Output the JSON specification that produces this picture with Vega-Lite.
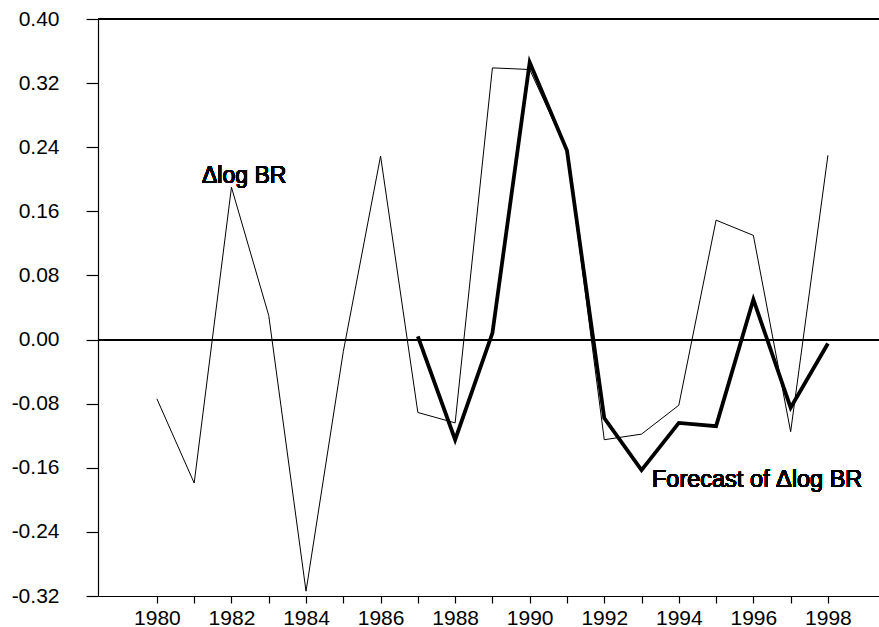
{
  "$schema": "https://vega.github.io/schema/vega-lite/v6.json",
  "width": 781,
  "height": 577,
  "autosize": "none",
  "padding": {"left": 98, "top": 19, "right": 0, "bottom": 31},
  "background": "white",
  "config": {
    "view": {"stroke": null},
    "font": "Liberation Sans",
    "axis": {
      "grid": false,
      "domainColor": "black",
      "tickColor": "black",
      "labelColor": "black",
      "labelFont": "Liberation Sans",
      "labelFontSize": 21,
      "labelFontWeight": "normal",
      "domainWidth": 1.2,
      "tickWidth": 1.2,
      "title": null
    }
  },
  "data": {
    "values": [
      {"year": 1980, "series": "BR", "value": -0.074},
      {"year": 1981, "series": "BR", "value": -0.179},
      {"year": 1982, "series": "BR", "value": 0.190},
      {"year": 1983, "series": "BR", "value": 0.030},
      {"year": 1984, "series": "BR", "value": -0.314},
      {"year": 1985, "series": "BR", "value": -0.015},
      {"year": 1986, "series": "BR", "value": 0.229},
      {"year": 1987, "series": "BR", "value": -0.091},
      {"year": 1988, "series": "BR", "value": -0.104},
      {"year": 1989, "series": "BR", "value": 0.339},
      {"year": 1990, "series": "BR", "value": 0.337},
      {"year": 1991, "series": "BR", "value": 0.236},
      {"year": 1992, "series": "BR", "value": -0.125},
      {"year": 1993, "series": "BR", "value": -0.118},
      {"year": 1994, "series": "BR", "value": -0.082},
      {"year": 1995, "series": "BR", "value": 0.149},
      {"year": 1996, "series": "BR", "value": 0.130},
      {"year": 1997, "series": "BR", "value": -0.115},
      {"year": 1998, "series": "BR", "value": 0.230},
      {"year": 1987, "series": "Forecast", "value": 0.004},
      {"year": 1988, "series": "Forecast", "value": -0.125},
      {"year": 1989, "series": "Forecast", "value": 0.008},
      {"year": 1990, "series": "Forecast", "value": 0.346},
      {"year": 1991, "series": "Forecast", "value": 0.236},
      {"year": 1992, "series": "Forecast", "value": -0.098},
      {"year": 1993, "series": "Forecast", "value": -0.163},
      {"year": 1994, "series": "Forecast", "value": -0.104},
      {"year": 1995, "series": "Forecast", "value": -0.108},
      {"year": 1996, "series": "Forecast", "value": 0.050},
      {"year": 1997, "series": "Forecast", "value": -0.085},
      {"year": 1998, "series": "Forecast", "value": -0.005}
    ]
  },
  "layer": [
    {
      "mark": {"type": "rule", "color": "black", "strokeWidth": 1.2},
      "encoding": {"y": {"datum": 0, "type": "quantitative", "scale": {"domain": [-0.32, 0.40], "nice": false, "zero": false}}}
    },
    {
      "mark": {"type": "rule", "color": "black", "strokeWidth": 1.2},
      "encoding": {"y": {"datum": 0.40, "type": "quantitative"}}
    },
    {
      "mark": {"type": "line", "color": "black", "strokeJoin": "miter", "clip": false},
      "encoding": {
        "x": {
          "field": "year", "type": "quantitative",
          "scale": {"domain": [1978.42, 1999.37], "nice": false, "zero": false},
          "axis": {
            "values": [1980,1981,1982,1983,1984,1985,1986,1987,1988,1989,1990,1991,1992,1993,1994,1995,1996,1997,1998],
            "labelExpr": "datum.value % 2 == 0 ? format(datum.value, 'd') : ''",
            "tickSize": 7,
            "labelPadding": 4,
            "labelOverlap": false
          }
        },
        "y": {
          "field": "value", "type": "quantitative",
          "scale": {"domain": [-0.32, 0.40], "nice": false, "zero": false},
          "axis": {
            "values": [-0.32, -0.24, -0.16, -0.08, 0, 0.08, 0.16, 0.24, 0.32, 0.40],
            "labelExpr": "replace(format(datum.value, '.2f'), '\u2212', '-')",
            "tickSize": 12,
            "labelPadding": 27,
            "labelOverlap": false
          }
        },
        "detail": {"field": "series"},
        "strokeWidth": {
          "field": "series", "type": "nominal",
          "scale": {"domain": ["BR", "Forecast"], "range": [1, 3.8]},
          "legend": null
        }
      }
    },
    {
      "mark": {"type": "text", "text": "Δlog BR", "align": "left", "baseline": "alphabetic", "fontSize": 23, "fontWeight": "normal", "font": "Liberation Sans", "fill": "black", "stroke": null},
      "encoding": {
        "x": {"datum": 1981.21, "type": "quantitative"},
        "y": {"datum": 0.1954, "type": "quantitative"}
      }
    },
    {
      "mark": {"type": "text", "text": "Forecast of Δlog BR", "align": "left", "baseline": "alphabetic", "fontSize": 23.5, "fontWeight": "normal", "font": "Liberation Sans", "fill": "black", "stroke": null},
      "encoding": {
        "x": {"datum": 1993.28, "type": "quantitative"},
        "y": {"datum": -0.1843, "type": "quantitative"}
      }
    }
  ]
}
